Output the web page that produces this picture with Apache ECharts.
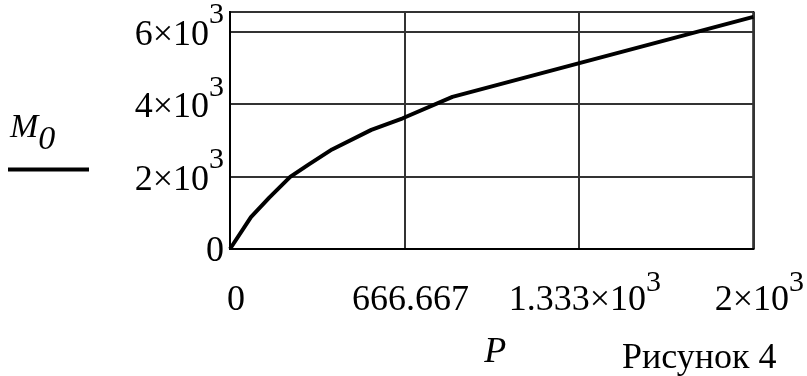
<!DOCTYPE html>
<html>
<head>
<meta charset="utf-8">
<title>M0 (P)</title>
<script src="https://cdn.jsdelivr.net/npm/echarts@6/dist/echarts.min.js"></script>
<style>
  html, body { margin: 0; padding: 0; background: #fff; }
  #chart { width: 807px; height: 376px; }
</style>
</head>
<body>
<div id="chart"></div>
<script>
var pValues = [0, 80, 150, 230, 300, 390, 540, 660, 850, 2000];
var m0Values = [0, 880, 1420, 1990, 2330, 2750, 3290, 3610, 4200, 6410];
var xTickLabels = ['0', '666.667', '1.333×10^3', '2×10^3'];
var yTickValues = [0, 2000, 4000, 6000];
var yTickLabels = ['0', '2×10^3', '4×10^3', '6×10^3'];
var xMax = 2000;
var yMax = 6545;

var serif = '"Liberation Serif", "Times New Roman", serif';

// "2×10^3" -> mantissa token + superscript token
function richLabel(text) {
  var parts = text.split('^');
  if (parts.length === 1) return '{z|' + text + '}';
  return '{b|' + parts[0] + '}{s|' + parts[1] + '}';
}

var seriesData = pValues.map(function (p, i) {
  return [p, m0Values[i]];
});

var myChart = echarts.init(document.getElementById('chart'));
var option = {
  animation: false,
  backgroundColor: '#fff',
  grid: {
    show: true,
    left: 230,
    right: 50,
    top: 12,
    bottom: 124,
    borderColor: '#000',
    borderWidth: 2
  },
  xAxis: {
    type: 'value',
    min: 0,
    max: xMax,
    interval: xMax / 3,
    name: 'P',
    nameLocation: 'middle',
    nameGap: 86,
    nameTextStyle: {
      fontFamily: serif,
      fontStyle: 'italic',
      fontSize: 36,
      color: '#000',
      padding: [0, 0, 0, 7]
    },
    axisLine: { show: true, lineStyle: { color: '#000', width: 2 } },
    axisTick: { show: false },
    splitLine: { lineStyle: { color: '#333', width: 2 } },
    axisLabel: {
      margin: 19,
      padding: [0, 0, 0, 12],
      color: '#000',
      fontFamily: serif,
      fontSize: 36,
      formatter: function (val, idx) {
        var i = Math.round(val / (xMax / 3));
        return xTickLabels[i] !== undefined ? richLabel(xTickLabels[i]) : '';
      },
      rich: {
        z: { fontFamily: serif, fontSize: 36, height: 36, color: '#000', padding: [14.5, 0, 0, 0] },
        b: { fontFamily: serif, fontSize: 36, height: 36, color: '#000', verticalAlign: 'bottom' },
        s: { fontFamily: serif, fontSize: 30, height: 30, color: '#000', verticalAlign: 'top', padding: [0, 0, 20.5, 0] }
      }
    }
  },
  yAxis: {
    type: 'value',
    min: 0,
    max: yMax,
    interval: 2000,
    axisLine: { show: true, lineStyle: { color: '#000', width: 2 } },
    axisTick: { show: false },
    splitLine: { lineStyle: { color: '#333', width: 2 } },
    axisLabel: {
      margin: 6,
      color: '#000',
      fontFamily: serif,
      fontSize: 36,
      formatter: function (val) {
        var i = yTickValues.indexOf(val);
        return i >= 0 ? richLabel(yTickLabels[i]) : '';
      },
      rich: {
        z: { fontFamily: serif, fontSize: 36, height: 36, color: '#000', padding: [6, 0, 0, 0] },
        b: { fontFamily: serif, fontSize: 36, height: 36, color: '#000', verticalAlign: 'bottom', padding: [0, 0, 10, 0] },
        s: { fontFamily: serif, fontSize: 30, height: 30, color: '#000', verticalAlign: 'top', padding: [0, 0, 33, 0] }
      }
    }
  },
  series: [{
    name: 'M0',
    type: 'line',
    data: seriesData,
    showSymbol: false,
    clip: true,
    lineStyle: { color: '#000', width: 4 },
    z: 5
  }],
  graphic: [
    {
      type: 'text',
      left: 10,
      top: 111,
      style: {
        text: '{m|M}{o|0}',
        rich: {
          m: { fontFamily: serif, fontStyle: 'italic', fontSize: 34, height: 34, fill: '#000', verticalAlign: 'top' },
          o: { fontFamily: serif, fontStyle: 'italic', fontSize: 34, height: 34, fill: '#000', verticalAlign: 'top', padding: [12, 0, 0, 0] }
        }
      }
    },
    {
      type: 'line',
      shape: { x1: 8, y1: 169.5, x2: 89, y2: 169.5 },
      style: { stroke: '#000', lineWidth: 4 }
    },
    {
      type: 'text',
      x: 622,
      y: 359,
      style: {
        text: 'Рисунок 4',
        font: '36px ' + serif,
        fill: '#000',
        align: 'left',
        verticalAlign: 'middle'
      }
    }
  ]
};
myChart.setOption(option);

window.addEventListener('resize', function () {
  myChart.resize();
});
</script>
</body>
</html>
